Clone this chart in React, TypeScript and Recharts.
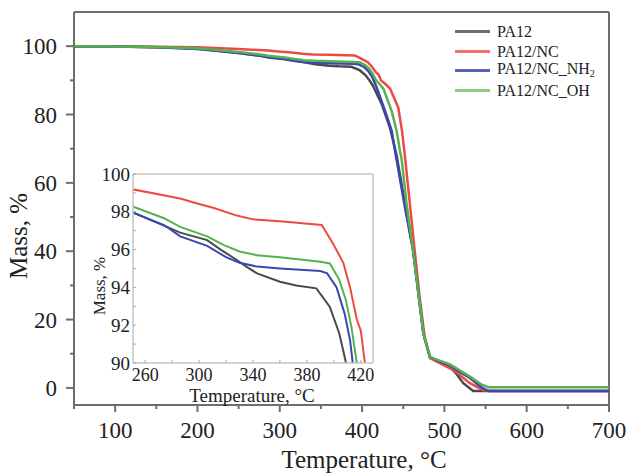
import React from 'react';
import { LineChart, Line, XAxis, YAxis, ReferenceLine } from 'recharts';

// temperature (°C), mass (%)
const PA12: [number, number][] = [
  [50, 100], [100, 99.9], [150, 99.7], [200, 99.3], [250, 98.0], [286, 96.9], [306, 96.5],
  [316, 96.0], [328, 95.45], [335, 95.1], [343, 94.74], [360, 94.3], [372, 94.1], [387, 93.95],
  [397, 92.97], [404, 91.56], [409, 90.0], [413, 88.5], [424, 83], [434, 76], [442, 68],
  [452, 54], [462, 40.2], [474.5, 16], [482.5, 9], [495, 7.4], [507, 6.1], [515, 4],
  [523, 1.4], [535, -0.9], [700, -0.9],
];
const PA12_NC: [number, number][] = [
  [50, 100], [100, 99.95], [150, 99.85], [200, 99.7], [250, 99.2], [286, 98.7], [298, 98.45],
  [311, 98.2], [328, 97.8], [340, 97.6], [360, 97.5], [391, 97.3], [399.5, 96.3], [407, 95.3],
  [412, 94.0], [417, 92.3], [420, 91.7], [423, 90.0], [428, 89], [434, 87.6], [444, 82],
  [448.5, 75.2], [452, 68], [458, 54], [464, 40], [470, 26.5], [476.5, 14], [482.5, 8.7],
  [495, 7.2], [511, 5.2], [531, 1.4], [547, -0.6], [555, -0.9], [700, -0.9],
];
const PA12_NC_NH2: [number, number][] = [
  [50, 100], [100, 99.9], [150, 99.7], [200, 99.2], [250, 97.98], [274, 97.3], [286, 96.7],
  [306, 96.2], [320, 95.6], [330, 95.3], [343, 95.1], [360, 95.0], [390, 94.87], [395, 94.74],
  [402, 94.0], [408, 92.6], [412, 91.2], [414, 90], [418, 87.8], [428, 81], [436, 75.2],
  [440, 69.4], [444, 64], [452, 53], [462, 40.2], [474.5, 16], [482.5, 9], [495, 7.6],
  [507, 6.6], [519, 4.6], [531, 2.9], [545, 0.2], [553, -0.9], [700, -0.9],
];
const PA12_NC_OH: [number, number][] = [
  [50, 100], [100, 99.9], [150, 99.75], [200, 99.4], [250, 98.3], [274, 97.66], [286, 97.2],
  [306, 96.7], [318, 96.25], [330, 95.9], [343, 95.7], [360, 95.6], [390, 95.36], [397, 95.27],
  [404, 94.4], [409, 93.3], [413, 91.9], [417, 90], [421, 89], [426, 87.5], [436, 81],
  [442, 75.2], [446, 69.4], [448, 67], [454, 54], [462, 40.2], [474.5, 16], [482.5, 9],
  [495, 7.9], [507, 6.9], [519, 5.1], [531, 3.3], [545, 1.0], [553, 0.2], [700, 0.2],
];

const MAIN_X_TICKS = [50, 100, 150, 200, 250, 300, 350, 400, 450, 500, 550, 600, 650, 700];
const MAIN_Y_TICKS = [0, 10, 20, 30, 40, 50, 60, 70, 80, 90, 100];
const INSET_X_TICKS = [260, 280, 300, 320, 340, 360, 380, 400, 420];
const INSET_Y_TICKS = [90, 91, 92, 93, 94, 95, 96, 97, 98, 99, 100];

const toPoints = (rows: [number, number][]) => rows.map(([t, m]) => ({ t, m }));

const SERIES = [
  { name: 'PA12', color: '#4a4a4a', legend: '#707070', data: toPoints(PA12) },
  { name: 'PA12/NC', color: '#ee4a45', legend: '#f07070', data: toPoints(PA12_NC) },
  { name: 'PA12/NC_NH2', color: '#3b46b3', legend: '#5563bb', data: toPoints(PA12_NC_NH2) },
  { name: 'PA12/NC_OH', color: '#55b24e', legend: '#8fcb80', data: toPoints(PA12_NC_OH) },
];

const FONT = "'Liberation Serif', serif";
const AXIS = '#6e6e6e';
const FRAME = '#c4c4c4';
const TXT = '#222';

// main plot box: x 74..609, y 12..405
const M_LEFT = 74;
const M_BOTTOM = 405;

const MainYTick = (props: any) => {
  const { y, payload } = props;
  const major = payload.value % 20 === 0;
  return (
    <g>
      <line x1={M_LEFT - (major ? 8 : 4)} x2={M_LEFT} y1={y} y2={y} stroke={AXIS} strokeWidth={2} />
      {major && (
        <text x={57} y={y} dy="0.35em" textAnchor="end" fontSize={23} fill={TXT} fontFamily={FONT}>
          {payload.value}
        </text>
      )}
    </g>
  );
};

const MainXTick = (props: any) => {
  const { x, payload } = props;
  const major = payload.value % 100 === 0;
  return (
    <g>
      <line x1={x} x2={x} y1={M_BOTTOM} y2={M_BOTTOM + (major ? 7 : 4)} stroke={AXIS} strokeWidth={2} />
      {major && (
        <text x={x} y={438} textAnchor="middle" fontSize={23} fill={TXT} fontFamily={FONT}>
          {payload.value}
        </text>
      )}
    </g>
  );
};

// inset plot box (inside its own 300x245 chart): x 53..293, y 9..198
const I_LEFT = 53;
const I_BOTTOM = 198;

const InsetYTick = (props: any) => {
  const { y, payload } = props;
  const major = payload.value % 2 === 0;
  return (
    <g>
      <line x1={I_LEFT} x2={I_LEFT + 3} y1={y} y2={y} stroke="#aaa" strokeWidth={1} />
      {major && (
        <text x={50} y={y} dy="0.35em" textAnchor="end" fontSize={19} fill={TXT} fontFamily={FONT}>
          {payload.value}
        </text>
      )}
    </g>
  );
};

const InsetXTick = (props: any) => {
  const { x, payload } = props;
  const major = (payload.value - 260) % 40 === 0;
  return (
    <g>
      <line x1={x} x2={x} y1={I_BOTTOM} y2={I_BOTTOM - 3} stroke="#aaa" strokeWidth={1} />
      {major && (
        <text x={x} y={216} textAnchor="middle" fontSize={18} fill={TXT} fontFamily={FONT}>
          {payload.value}
        </text>
      )}
    </g>
  );
};

const legendLabel = (name: string) =>
  name.endsWith('NH2') ? (
    <span>
      PA12/NC_NH<sub style={{ fontSize: 10, verticalAlign: -3 }}>2</sub>
    </span>
  ) : (
    <span>{name}</span>
  );

export default function App() {
  return (
    <div style={{ position: 'absolute', left: 0, top: 0, width: 629, height: 475, background: '#fff', fontFamily: FONT }}>
      <LineChart width={629} height={475} data={[]} margin={{ top: 12, right: 20, bottom: 0, left: 0 }}>
        <XAxis
          dataKey="t"
          type="number"
          domain={[50, 700]}
          ticks={MAIN_X_TICKS}
          interval={0}
          height={70}
          allowDataOverflow
          tickLine={false}
          tick={<MainXTick />}
          axisLine={{ stroke: AXIS, strokeWidth: 2 }}
          label={{
            content: () => (
              <text x={364} y={468} textAnchor="middle" fontSize={25} fill={TXT} fontFamily={FONT}>
                Temperature, °C
              </text>
            ),
          }}
        />
        <YAxis
          dataKey="m"
          type="number"
          domain={[-5, 110]}
          ticks={MAIN_Y_TICKS}
          interval={0}
          width={74}
          allowDataOverflow
          tickLine={false}
          tick={<MainYTick />}
          axisLine={{ stroke: AXIS, strokeWidth: 2 }}
          label={{
            content: () => (
              <text transform="translate(27,236) rotate(-90)" textAnchor="middle" fontSize={25} fill={TXT} fontFamily={FONT}>
                Mass, %
              </text>
            ),
          }}
        />
        <ReferenceLine y={110} stroke={AXIS} strokeWidth={2} />
        <ReferenceLine x={700} stroke={AXIS} strokeWidth={2} />
        {SERIES.map((s) => (
          <Line
            key={s.name}
            data={s.data}
            dataKey="m"
            name={s.name}
            type="linear"
            stroke={s.color}
            strokeWidth={2.5}
            dot={false}
            isAnimationActive={false}
          />
        ))}
      </LineChart>

      {/* legend */}
      <div style={{ position: 'absolute', left: 455, top: 22, fontSize: 16, color: TXT, lineHeight: '19.5px' }}>
        {SERIES.map((s) => (
          <div key={s.name} style={{ display: 'flex', alignItems: 'center', height: 19.5 }}>
            <span style={{ display: 'inline-block', width: 35, height: 3, background: s.legend, marginRight: 7 }} />
            {legendLabel(s.name)}
          </div>
        ))}
      </div>

      {/* inset */}
      <div style={{ position: 'absolute', left: 80, top: 165, width: 300, height: 245 }}>
        <LineChart width={300} height={245} data={[]} margin={{ top: 9, right: 7, bottom: 0, left: 0 }}>
          <XAxis
            dataKey="t"
            type="number"
            domain={[251, 429]}
            ticks={INSET_X_TICKS}
            interval={0}
            height={47}
            allowDataOverflow
            tickLine={false}
            tick={<InsetXTick />}
            axisLine={{ stroke: FRAME, strokeWidth: 1.5 }}
            label={{
              content: () => (
                <text x={172} y={237} textAnchor="middle" fontSize={19} fill={TXT} fontFamily={FONT}>
                  Temperature, °C
                </text>
              ),
            }}
          />
          <YAxis
            dataKey="m"
            type="number"
            domain={[90, 100]}
            ticks={INSET_Y_TICKS}
            interval={0}
            width={53}
            allowDataOverflow
            tickLine={false}
            tick={<InsetYTick />}
            axisLine={{ stroke: FRAME, strokeWidth: 1.5 }}
            label={{
              content: () => (
                <text transform="translate(25,121) rotate(-90)" textAnchor="middle" fontSize={17} fill={TXT} fontFamily={FONT}>
                  Mass, %
                </text>
              ),
            }}
          />
          <ReferenceLine y={100} stroke={FRAME} strokeWidth={1.5} />
          <ReferenceLine x={429} stroke={FRAME} strokeWidth={1.5} />
          {SERIES.map((s) => (
            <Line
              key={s.name}
              data={s.data}
              dataKey="m"
              name={s.name}
              type="linear"
              stroke={s.color}
              strokeWidth={2}
              dot={false}
              isAnimationActive={false}
            />
          ))}
        </LineChart>
      </div>
    </div>
  );
}
